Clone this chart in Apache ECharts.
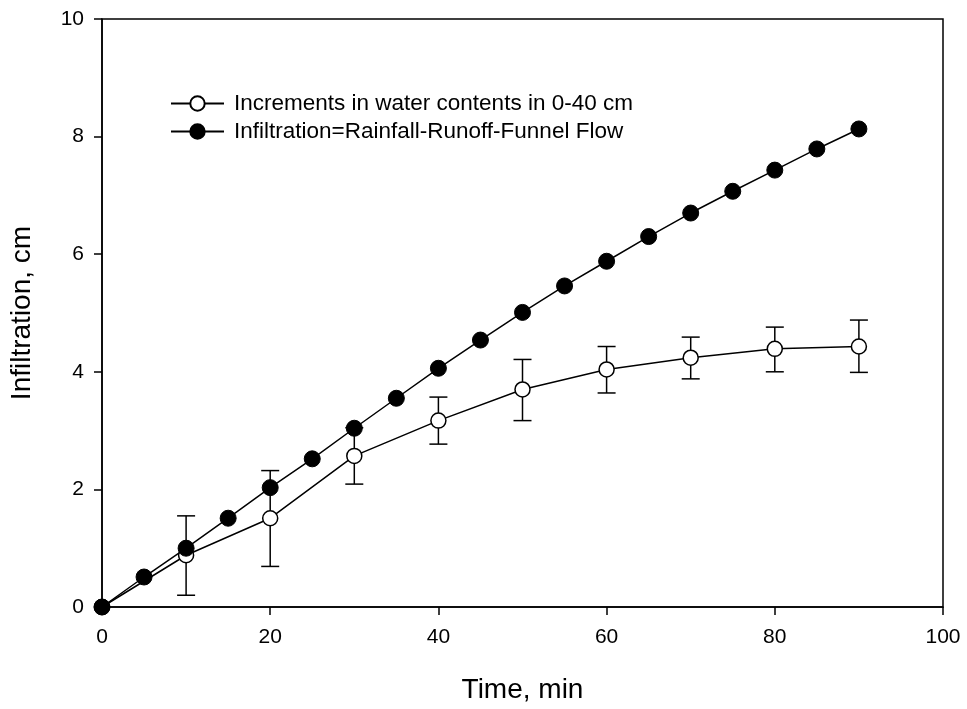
<!DOCTYPE html>
<html>
<head>
<meta charset="utf-8">
<script src="https://cdn.jsdelivr.net/npm/echarts@6/dist/echarts.min.js"></script>
<style>html,body{margin:0;padding:0;background:#fff;}#c{width:967px;height:709px;}</style>
</head>
<body>
<div id="c"></div>
<script>
var seriesNames = ['Increments in water contents in 0-40 cm', 'Infiltration=Rainfall-Runoff-Funnel Flow'];
var openX = [0, 10, 20, 30, 40, 50, 60, 70, 80, 90];
var openY = [0, 0.88, 1.51, 2.57, 3.17, 3.70, 4.04, 4.24, 4.39, 4.43];
var openHigh = [null, 1.55, 2.32, 3.05, 3.57, 4.21, 4.43, 4.59, 4.76, 4.88];
var openLow = [null, 0.20, 0.69, 2.09, 2.77, 3.17, 3.64, 3.88, 4.00, 3.99];
var filledX = [0, 5, 10, 15, 20, 25, 30, 35, 40, 45, 50, 55, 60, 65, 70, 75, 80, 85, 90];
var filledY = [0, 0.51, 1.00, 1.51, 2.03, 2.52, 3.04, 3.55, 4.06, 4.54, 5.01, 5.46, 5.88, 6.30, 6.70, 7.07, 7.43, 7.79, 8.13];
var xTicks = [0, 20, 40, 60, 80, 100];
var yTicks = [0, 2, 4, 6, 8, 10];

var FONT = '"Liberation Sans", Arial, sans-serif';
var chart = echarts.init(document.getElementById('c'), null, {renderer: 'canvas'});

var openData = openX.map(function (x, i) { return [x, openY[i]]; });
var filledData = filledX.map(function (x, i) { return [x, filledY[i]]; });
var errData = [];
openX.forEach(function (x, i) {
  if (openHigh[i] != null && openLow[i] != null) errData.push([x, openLow[i], openHigh[i]]);
});

var option = {
  backgroundColor: '#fff',
  animation: false,
  grid: {
    left: 102, right: 24, top: 19, bottom: 102,
    show: true, borderColor: '#000', borderWidth: 1.5, backgroundColor: 'transparent'
  },
  legend: {
    orient: 'vertical',
    left: 165, top: 87,
    itemWidth: 53, itemHeight: 18, itemGap: 5,
    data: seriesNames,
    textStyle: {fontFamily: FONT, fontSize: 22.5, color: '#000', lineHeight: 23, padding: [0, 0, 0, 5]}
  },
  xAxis: {
    type: 'value', min: xTicks[0], max: xTicks[xTicks.length - 1], interval: 20,
    name: 'Time, min', nameLocation: 'middle', nameGap: 69,
    nameTextStyle: {fontFamily: FONT, fontSize: 28, color: '#000'},
    axisLine: {show: true, onZero: false, lineStyle: {color: '#000', width: 1.5}},
    axisTick: {show: true, length: 8, inside: false, lineStyle: {color: '#000', width: 1.5}},
    axisLabel: {fontFamily: FONT, fontSize: 21, color: '#000', margin: 20},
    splitLine: {show: false}
  },
  yAxis: {
    type: 'value', min: yTicks[0], max: yTicks[yTicks.length - 1], interval: 2,
    name: 'Infiltration, cm', nameLocation: 'middle', nameGap: 66,
    nameTextStyle: {fontFamily: FONT, fontSize: 28, color: '#000'},
    axisLine: {show: true, onZero: false, lineStyle: {color: '#000', width: 1.5}},
    axisTick: {show: true, length: 8, inside: false, lineStyle: {color: '#000', width: 1.5}},
    axisLabel: {fontFamily: FONT, fontSize: 21, color: '#000', margin: 18},
    splitLine: {show: false}
  },
  series: [
    {
      type: 'custom',
      name: 'err',
      z: 1,
      silent: true,
      data: errData,
      encode: {x: 0, y: [1, 2]},
      renderItem: function (params, api) {
        var x = api.value(0);
        var lo = api.coord([x, api.value(1)]);
        var hi = api.coord([x, api.value(2)]);
        var hw = 9;
        var style = {stroke: '#000', lineWidth: 1.5, fill: null};
        return {
          type: 'group',
          children: [
            {type: 'line', shape: {x1: lo[0], y1: lo[1], x2: hi[0], y2: hi[1]}, style: style},
            {type: 'line', shape: {x1: lo[0] - hw, y1: lo[1], x2: lo[0] + hw, y2: lo[1]}, style: style},
            {type: 'line', shape: {x1: hi[0] - hw, y1: hi[1], x2: hi[0] + hw, y2: hi[1]}, style: style}
          ]
        };
      }
    },
    {
      type: 'line',
      name: seriesNames[0],
      z: 3,
      data: openData,
      symbol: 'circle',
      symbolSize: 15,
      showAllSymbol: true,
      lineStyle: {color: '#000', width: 1.5},
      itemStyle: {color: '#fff', borderColor: '#000', borderWidth: 1.5}
    },
    {
      type: 'line',
      name: seriesNames[1],
      z: 4,
      data: filledData,
      symbol: 'circle',
      symbolSize: 16,
      showAllSymbol: true,
      lineStyle: {color: '#000', width: 1.5},
      itemStyle: {color: '#000', borderColor: '#000', borderWidth: 1}
    }
  ]
};
chart.setOption(option);
</script>
</body>
</html>
